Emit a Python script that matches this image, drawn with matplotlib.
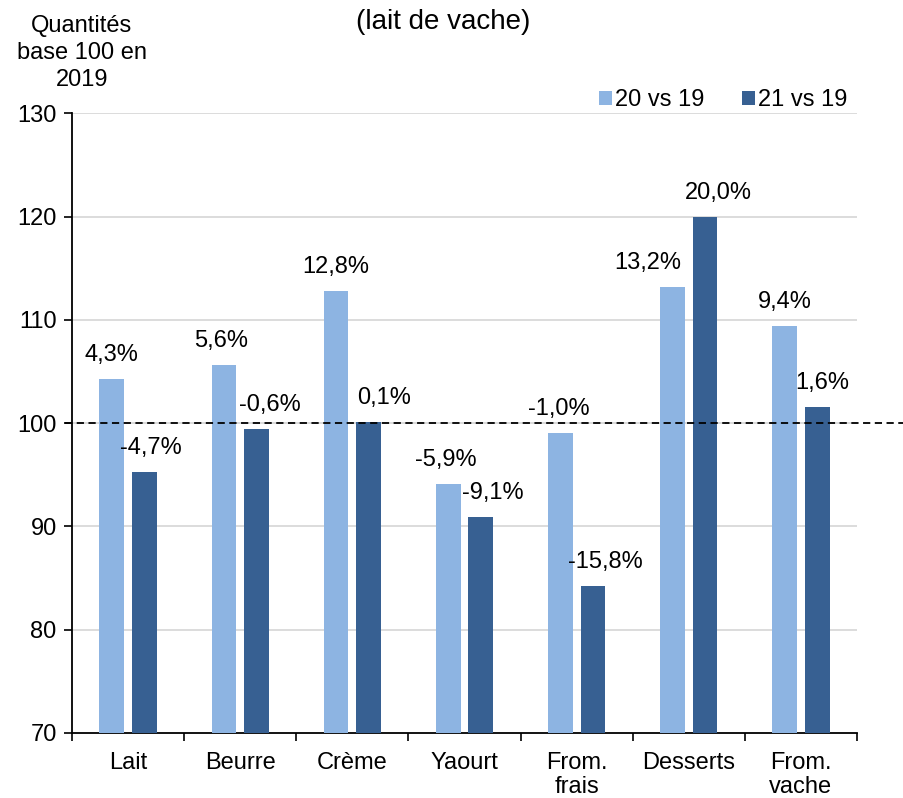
import matplotlib
matplotlib.use("Agg")
import matplotlib.pyplot as plt
from matplotlib.transforms import offset_copy
import numpy as np

plt.rcParams['font.family'] = ['Liberation Sans', 'DejaVu Sans']

categories = ["Lait", "Beurre", "Crème", "Yaourt", "From.\nfrais", "Desserts", "From.\nvache"]
s20 = [104.3, 105.6, 112.8, 94.1, 99.0, 113.2, 109.4]
s21 = [95.3, 99.4, 100.1, 90.9, 84.2, 120.0, 101.6]
lab20 = ["4,3%", "5,6%", "12,8%", "-5,9%", "-1,0%", "13,2%", "9,4%"]
lab21 = ["-4,7%", "-0,6%", "0,1%", "-9,1%", "-15,8%", "20,0%", "1,6%"]
series_names = ["20 vs 19", "21 vs 19"]
yticks = [70, 80, 90, 100, 110, 120, 130]

c20 = "#8DB4E2"
c21 = "#376092"
FS = 17

fig = plt.figure(figsize=(9.04, 7.98), dpi=100)
ax = fig.add_axes([0.0796, 0.0815, 0.8684, 0.7765])

x = np.arange(len(categories))
w = 0.22
off = 0.145
ax.bar(x - off, [v - 70 for v in s20], w, bottom=70, color=c20, label=series_names[0], zorder=3)
ax.bar(x + off, [v - 70 for v in s21], w, bottom=70, color=c21, label=series_names[1], zorder=3)

# horizontal nudges of the data labels (pixels), as placed in the reference
nudge20 = [0, -3, 0, -2, -2, -25, 0]
nudge21 = [7, 13, 15, 12, 12, 13, 5]
for i in range(len(categories)):
    t1 = offset_copy(ax.transData, fig=fig, x=nudge20[i], y=24, units='dots')
    t2 = offset_copy(ax.transData, fig=fig, x=nudge21[i], y=24, units='dots')
    ax.text(x[i] - off, s20[i], lab20[i], ha='center', va='center', fontsize=FS, zorder=4, transform=t1)
    ax.text(x[i] + off, s21[i], lab21[i], ha='center', va='center', fontsize=FS, zorder=4, transform=t2)

ax.set_xlim(-0.5, len(categories) - 0.5)
ax.set_ylim(70, 130)
ax.set_yticks(yticks)
ax.set_yticklabels([str(t) for t in yticks], fontsize=FS)
ax.set_xticks(x)
ax.set_xticklabels(categories, fontsize=FS, linespacing=1.12)
ax.set_xticks(np.arange(-0.5, len(categories), 1.0), minor=True)
ax.tick_params(axis='x', which='major', length=0, pad=14)
ax.tick_params(axis='x', which='minor', length=6, width=1.2, direction='out')
ax.tick_params(axis='y', length=6, width=1.2, direction='out', pad=5)

for t in yticks[1:]:
    ax.axhline(t, color="#D9D9D9", lw=1.3, zorder=1)

ax.axhline(100, xmin=-0.009, xmax=1.06, color='black', lw=1.3, ls=(0, (4, 2.5)), clip_on=False, zorder=5)

for s in ['top', 'right']:
    ax.spines[s].set_visible(False)
ax.spines['left'].set_linewidth(1.3)
ax.spines['bottom'].set_linewidth(1.3)

leg = fig.legend(loc='center right', bbox_to_anchor=(847 / 904, 1 - 100 / 798), ncol=2, frameon=False, fontsize=FS,
                 handlelength=0.55, handleheight=0.55, handletextpad=0.12, columnspacing=1.6,
                 borderaxespad=0.0, borderpad=0.0)

fig.text(82 / 904, 1 - 53 / 798, "Quantités\nbase 100 en\n2019", ha='center', va='center', fontsize=FS, linespacing=1.32)
fig.text(443 / 904, 1 - 22 / 798, "(lait de vache)", ha='center', va='center', fontsize=20)

fig.savefig("out.png", dpi=100)
